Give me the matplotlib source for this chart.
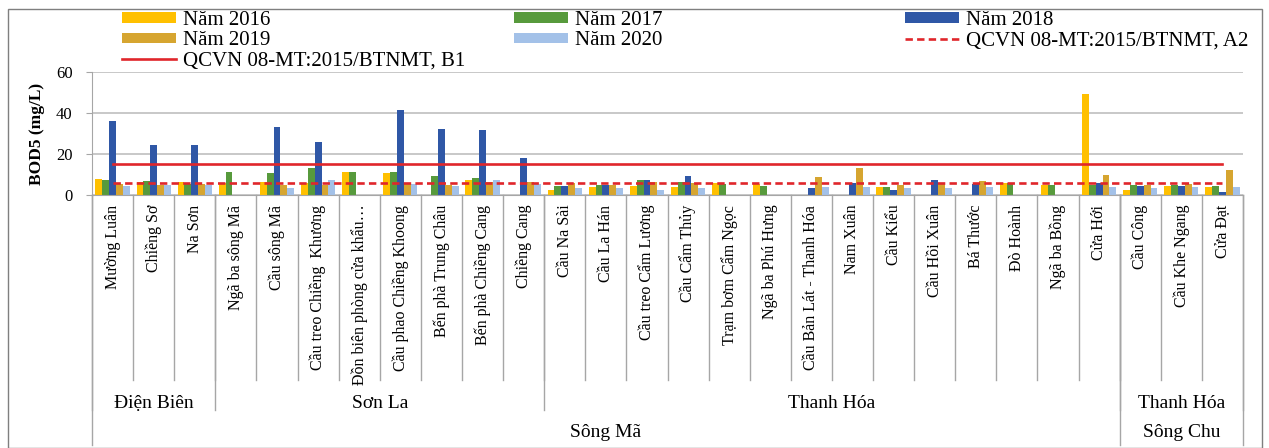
import matplotlib.pyplot as plt
import numpy as np

plt.rcParams['font.family'] = ['Liberation Serif', 'DejaVu Serif']

# diem quan trac (song Ma -> song Chu)
stations = ["Mường Luân", "Chiềng Sơ", "Na Sơn", "Ngã ba sông Mã", "Cầu sông Mã",
            "Cầu treo Chiềng  Khương", "Đồn biên phòng cửa khẩu…", "Cầu phao Chiềng Khoong",
            "Bến phà Trung Châu", "Bến phà Chiềng Cang", "Chiềng Cang", "Cầu Na Sài",
            "Cầu La Hán", "Cầu treo Cẩm Lương", "Cầu Cẩm Thủy", "Trạm bơm Cẩm Ngọc",
            "Ngã ba Phú Hưng", "Cầu Bản Lát - Thanh Hóa", "Nam Xuân", "Cầu Kiểu",
            "Cầu Hồi Xuân", "Bá Thước", "Đò Hoành", "Ngã ba Bồng", "Cửa Hới",
            "Cầu Công", "Cầu Khe Ngang", "Cửa Đạt"]

bod_2016 = [8, 6.5, 6.5, 6, 6.5, 6, 11, 10.5, 0, 7.5, 0, 2.5, 4, 4.4, 4, 5.7,
            5.2, 0, 0, 4, 0, 0, 5.7, 4.9, 49.3, 2.4, 4.4, 4]
bod_2017 = [7.5, 7, 5.5, 11, 10.5, 13, 11, 11, 9.5, 8.5, 0, 4.5, 5, 7.3, 6.5, 5.5,
            4.2, 0, 0, 4, 0, 0, 5.7, 4.9, 4.9, 4.9, 4.9, 4.6]
bod_2018 = [36, 24.5, 24.5, 0, 33.3, 25.7, 0, 41.5, 32, 31.7, 18, 4.5, 5, 7.3, 9.3, 0,
            0, 3.5, 5.7, 2.4, 7.2, 5.4, 0, 0, 5.8, 4.4, 4.4, 1.4]
bod_2019 = [5.5, 5, 5.5, 0, 5, 5, 0, 6, 5, 6.5, 6.5, 5.7, 5, 6.5, 5.7, 0,
            0, 8.9, 13.1, 5, 5.7, 6.8, 0, 0, 9.6, 5.1, 5.2, 12.2]
bod_2020 = [4.5, 5, 5, 0, 3.5, 7.5, 0, 5.5, 4.5, 7.5, 5.5, 3.4, 3.4, 2.4, 3.4, 0,
            0, 3.8, 3.8, 3.5, 3.4, 4, 0, 0, 4, 3.6, 4, 4]

qcvn_b1 = 15
qcvn_a2 = 6

# nhom: (ten, so diem)
provinces = [("Điện Biên", 3), ("Sơn La", 8), ("Thanh Hóa", 14), ("Thanh Hóa", 3)]
rivers = [("Sông Mã", 25), ("Sông Chu", 3)]

series = [("Năm 2016", bod_2016, '#FFC000'),
          ("Năm 2017", bod_2017, '#579A3C'),
          ("Năm 2018", bod_2018, '#2F57A6'),
          ("Năm 2019", bod_2019, '#D6A530'),
          ("Năm 2020", bod_2020, '#A3C1E8')]

W, H = 1269, 448
fig = plt.figure(figsize=(W/100, H/100), dpi=100)
ax = fig.add_axes([92/W, 1-195/H, (1243-92)/W, (195-72)/H])

x = np.arange(len(stations))
bw = 1/6
handles = []
for i, (name, vals, col) in enumerate(series):
    b = ax.bar(x + (i-2)*bw, vals, bw, color=col, linewidth=0, label=name, zorder=2)
    handles.append(b)

lb1, = ax.plot([x[0], x[-1]], [qcvn_b1, qcvn_b1], color='#E0262B', lw=1.9, zorder=3,
               label="QCVN 08-MT:2015/BTNMT, B1")
la2, = ax.plot([x[0], x[-1]], [qcvn_a2, qcvn_a2], color='#E0262B', lw=1.9, zorder=3,
               linestyle=(0, (2.8, 1.6)), label="QCVN 08-MT:2015/BTNMT, A2")

ax.set_xlim(-0.5, len(stations)-0.5)
ax.set_ylim(0, 60)
ax.set_yticks([0, 20, 40, 60])
ax.yaxis.grid(True, color='#BFBFBF', lw=1.2)
ax.set_axisbelow(True)
for s in ['top', 'right']:
    ax.spines[s].set_visible(False)
ax.spines['left'].set_color('#A6A6A6')
ax.spines['bottom'].set_color('#A6A6A6')
ax.tick_params(axis='y', length=4, color='#A6A6A6', labelsize=12, pad=10)
ax.set_ylabel("BOD5 (mg/L)", fontsize=12.5, fontweight='bold', labelpad=8)

ax.set_xticks(x)
ax.set_xticklabels(stations, rotation=90, va='top', ha='center', fontsize=11.5)
ax.tick_params(axis='x', length=0, pad=7)

# duong ke phan cap truc danh muc
def fy(px):
    return (195 - px) / 123

trans = ax.get_xaxis_transform()
for b in x[:-1] + 0.5:
    ax.plot([b, b], [0, fy(380)], color='#A6A6A6', lw=1, transform=trans, clip_on=False)

edges = np.cumsum([0] + [n for _, n in provinces]) - 0.5
for b in edges:
    ax.plot([b, b], [0, fy(410)], color='#A6A6A6', lw=1, transform=trans, clip_on=False)
for (name, n), e0 in zip(provinces, edges[:-1]):
    ax.text(e0 + n/2, fy(403), name, ha='center', va='center', fontsize=14, transform=trans)

redges = np.cumsum([0] + [n for _, n in rivers]) - 0.5
for b in redges:
    ax.plot([b, b], [0, fy(445)], color='#A6A6A6', lw=1, transform=trans, clip_on=False)
for (name, n), e0 in zip(rivers, redges[:-1]):
    ax.text(e0 + n/2, fy(432), name, ha='center', va='center', fontsize=14, transform=trans)

# chu giai theo cot
cols = [([handles[0], handles[3], lb1], 122),
        ([handles[1], handles[4]], 514),
        ([handles[2], la2], 905)]
for hs, px in cols:
    leg = fig.legend(handles=hs, labels=[h.get_label() for h in hs], loc='upper left',
                     bbox_to_anchor=(px/W, 1-11/H), frameon=False, fontsize=15,
                     borderpad=0, borderaxespad=0, labelspacing=0.06, handlelength=2.6,
                     handleheight=0.4, handletextpad=0.35)

fig.add_artist(plt.Rectangle((8/W, 0.5/H), (1262-8)/W, (H-9.5)/H, transform=fig.transFigure,
                             fill=False, edgecolor='#7F7F7F', lw=1))

fig.savefig("out.png", dpi=100)
